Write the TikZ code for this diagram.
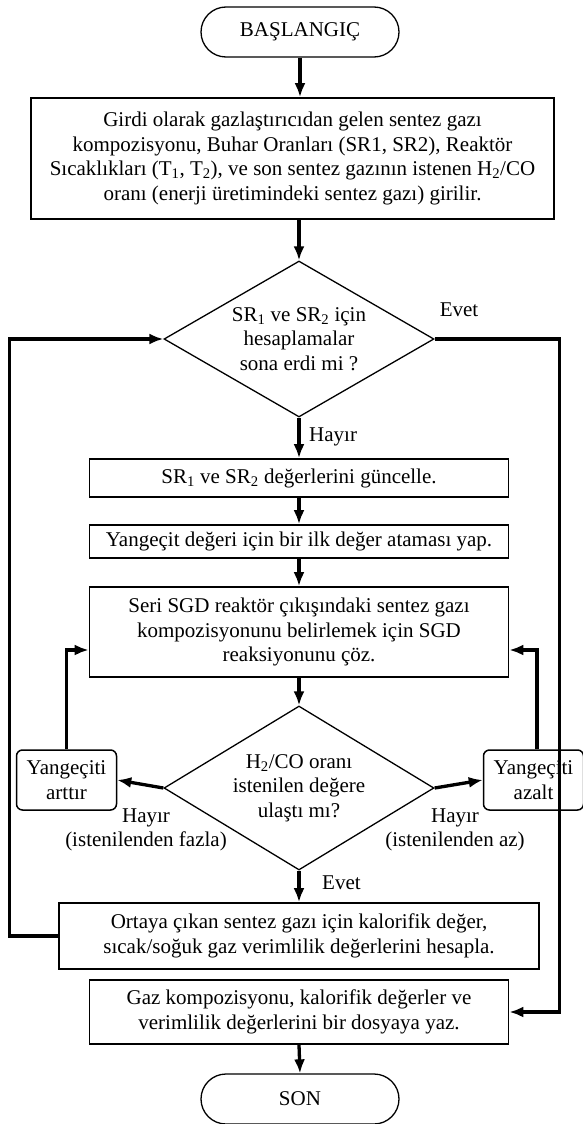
\documentclass[tikz,border=0pt]{standalone}
\usepackage{fontspec}
\setmainfont{Liberation Serif}
\usetikzlibrary{shapes,arrows.meta}
\tikzstyle{term}=[rectangle,draw=black,line width=1.3pt,rounded corners=25pt,minimum width=198pt,minimum height=50pt,inner sep=0pt]
\tikzstyle{kutu}=[rectangle,draw=black,line width=1.7pt,align=center,inner sep=0pt]
\tikzstyle{karar}=[diamond,draw=black,line width=1.3pt,align=center,inner sep=0pt,minimum width=270pt]
\tikzstyle{kucuk}=[rectangle,draw=black,line width=1.5pt,rounded corners=6pt,align=center,inner sep=0pt,minimum width=100pt,minimum height=60pt]
\tikzstyle{ok}=[line width=3.3pt,-{Latex[length=14pt,width=11pt]}]
\tikzstyle{etiket}=[inner sep=0pt,align=center]

\begin{document}
\begin{tikzpicture}[x=1pt,y=-1pt,font=\fontsize{21}{24.5}\selectfont]
\useasboundingbox (0,0) rectangle (582,1124);
\node[term] (bas) at (300,32) {BAŞLANGIÇ};
\node[kutu,minimum width=523pt,minimum height=121pt] (girdi) at (292.5,158.5) {Girdi olarak gazlaştırıcıdan gelen sentez gazı\\kompozisyonu, Buhar Oranları (SR1, SR2), Reaktör\\Sıcaklıkları (T\textsubscript{1}, T\textsubscript{2}), ve son sentez gazının istenen H\textsubscript{2}/CO\\oranı (enerji üretimindeki sentez gazı) girilir.};
\node[karar,aspect=1.73,minimum height=156pt] (sr) at (299,339) {SR\textsubscript{1} ve SR\textsubscript{2} için\\hesaplamalar\\sona erdi mi ?};
\node[kutu,minimum width=419pt,minimum height=38pt] (guncel) at (299,478) {SR\textsubscript{1} ve SR\textsubscript{2} değerlerini güncelle.};
\node[kutu,minimum width=419pt,minimum height=33pt] (ilk) at (299,541.5) {Yangeçit değeri için bir ilk değer ataması yap.};
\node[kutu,minimum width=419pt,minimum height=90pt] (sgd) at (299,632) {Seri SGD reaktör çıkışındaki sentez gazı\\kompozisyonunu belirlemek için SGD\\reaksiyonunu çöz.};
\node[karar,aspect=1.65,minimum height=164pt] (oran) at (299,788) {H\textsubscript{2}/CO oranı\\istenilen değere\\ulaştı mı?};
\node[kucuk] (arttir) at (66.5,780) {Yangeçiti\\arttır};
\node[kucuk] (azalt) at (533.5,780) {Yangeçiti\\azalt};
\node[kutu,minimum width=480pt,minimum height=66pt] (kalori) at (299,936) {Ortaya çıkan sentez gazı için kalorifik değer,\\sıcak/soğuk gaz verimlilik değerlerini hesapla.};
\node[kutu,minimum width=419pt,minimum height=64pt] (yaz) at (299,1012) {Gaz kompozisyonu, kalorifik değerler ve\\verimlilik değerlerini bir dosyaya yaz.};
\node[term] (son) at (300,1099) {SON};
% etiketler
\node[etiket] (evet1) at (459,310) {Evet};
\node[etiket,anchor=west] (hayir1) at (309,437) {Hayır};
\node[etiket] (hayir2) at (146,830) {Hayır\\(istenilenden fazla)};
\node[etiket] (hayir3) at (455,830) {Hayır\\(istenilenden az)};
\node[etiket,anchor=west] (evet2) at (322,883) {Evet};
% oklar
\draw[ok] (bas.south) -- (bas.south |- girdi.north);
\draw[ok] (sr.north |- girdi.south) -- (sr.north);
\draw[ok] (sr.south) -- (guncel.north);
\draw[ok] (guncel.south) -- (ilk.north);
\draw[ok] (ilk.south) -- (sgd.north);
\draw[ok] (sgd.south) -- (oran.north);
\draw[ok] (oran.south) -- (kalori.north);
\draw[ok] (yaz.south) -- (son.north);
\draw[ok] (oran.west) -- (arttir.east);
\draw[ok] (oran.east) -- (azalt.west);
\draw[ok] (arttir.north) |- ([yshift=-18pt]sgd.west);
\draw[ok] ([xshift=3.5pt]azalt.north) |- ([yshift=-18pt]sgd.east);
\draw[ok] (kalori.west) -- ++(-49,0) |- (sr.west);
\draw[ok] (sr.east) -- ++(125,0) |- (yaz.east);
\end{tikzpicture}
\end{document}
